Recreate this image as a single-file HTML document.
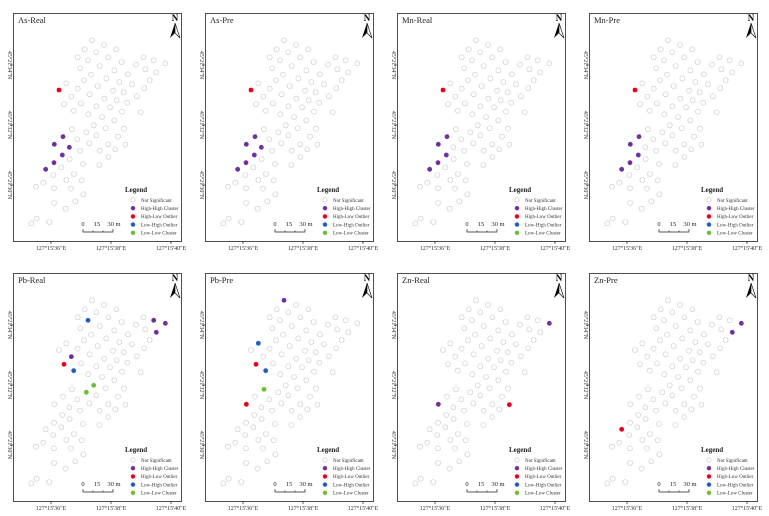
<!DOCTYPE html>
<html><head><meta charset="utf-8"><style>
html,body{margin:0;padding:0;background:#fff;}
svg{display:block;font-family:"Liberation Serif",serif;}
</style></head><body>
<svg id="chart" width="769" height="516" viewBox="0 0 769 516" xmlns="http://www.w3.org/2000/svg"></svg>
<script>
// sample locations (map units, same in every panel)
const locX = [276,312,254,289,349,233,264,325,299,365,241,273,343,408,430,461,496,436,469,384,252,319,358,199,449,233,293,339,396,177,214,269,313,350,371,433,411,192,243,289,330,382,221,265,306,343,366,422,281,216,259,317,372,189,232,289,354,163,208,268,325,240,299,346,376,187,209,325,162,249,184,298,137,160,222,199,245,130,108,162,213,250,162,226,197,110,94,148];
const locY = [121,135,148,157,148,172,181,172,198,186,205,224,211,194,172,181,190,208,217,223,241,235,246,250,240,266,258,272,253,270,290,283,296,301,277,265,289,313,310,319,322,308,332,343,351,361,335,337,376,388,397,385,386,410,418,406,410,433,442,430,433,452,452,448,434,465,477,471,488,492,502,495,508,525,522,540,541,548,560,565,566,583,609,604,626,656,670,666];
const panelNames = ["As-Real","As-Pre","Mn-Real","Mn-Pre","Pb-Real","Pb-Pre","Zn-Real","Zn-Pre"];
const hhIdx = [[53,57,58,65,68,72],[53,57,58,65,68,72],[53,57,65,68,72],[53,57,65,68,72],[15,16,18,30],[0],[16,57],[16,18]];
const hlIdx = [[29],[29],[29],[29],[37],[37,57],[64],[72]];
const lhIdx = [[],[],[],[],[6,42],[23,42],[],[]];
const llIdx = [[],[],[],[],[48,50],[49],[],[]];
const legendLabels = ["Not Significant","High-High Cluster","High-Low Outlier","Low-High Outlier","Low-Low Cluster"];
const colors = ["none","#7030a0","#e8001c","#1f5fbf","#6cbf35"];
const lonTicks = ["127°15'36\"E","127°15'38\"E","127°15'40\"E"];
const latTicks = ["45°21'34\"N","45°21'32\"N","45°21'30\"N"];

const NS="http://www.w3.org/2000/svg";
const svg=document.getElementById('chart');
function mk(tag,attrs,parent){const e=document.createElementNS(NS,tag);for(const k in attrs)e.setAttribute(k,attrs[k]);parent.appendChild(e);return e;}
const sx=v=>v/3, sy=v=>v/3;
const offX=[0,192,384,576], offY=[0,260];

panelNames.forEach((name,p)=>{
  const g=mk('g',{transform:`translate(${offX[p%4]},${offY[Math.floor(p/4)]})`},svg);
  
  
  const fr=mk('rect',{x:13.5,y:13.5,width:168,height:228,fill:'#fff',stroke:'#222','stroke-width':0.8},g);
  
  
  const t=mk('text',{x:18,y:23,'font-size':8.5,fill:'#222'},g);t.textContent=name;
  
  
  // north arrow
  const na=mk('g',{},g);
  
  
  const nt=mk('text',{x:175,y:21,'font-size':9,'text-anchor':'middle','font-weight':'bold'},na);nt.textContent='N';
  mk('polygon',{points:'175,23 170,38 175,33',fill:'#000'},na);
  mk('polygon',{points:'175,23 180,38 175,33',fill:'#fff',stroke:'#000','stroke-width':0.6},na);
  // ticks
  lonTicks.forEach((l,i)=>{
    const x=51+i*60;
    mk('line',{x1:x,y1:241,x2:x,y2:244,stroke:'#222','stroke-width':0.7},g);
    const tt=mk('text',{x:x,y:250,'font-size':6,'text-anchor':'middle',fill:'#333'},g);tt.textContent=l;
    
    
  });
  latTicks.forEach((l,i)=>{
    const y=65+i*60;
    mk('line',{x1:10,y1:y,x2:13,y2:y,stroke:'#222','stroke-width':0.7},g);
    const tt=mk('text',{x:0,y:0,'font-size':6,'text-anchor':'middle',fill:'#333',transform:`translate(8,${y}) rotate(90)`},g);tt.textContent=l;
    
    
  });
  // points
  const cls=new Array(locX.length).fill(0);
  hhIdx[p].forEach(i=>cls[i]=1);hlIdx[p].forEach(i=>cls[i]=2);lhIdx[p].forEach(i=>cls[i]=3);llIdx[p].forEach(i=>cls[i]=4);
  locX.forEach((vx,i)=>{
    const c=cls[i];
    const pt=mk('circle',{cx:sx(vx),cy:sy(locY[i]),r:c?2.4:2.5,fill:c?colors[c]:'none',stroke:c?'none':'#c8c8c8','stroke-width':0.6},g);
    
    
  });
  // legend
  const lg=mk('g',{},g);
  
  
  const lt=mk('text',{x:125,y:192,'font-size':7,'font-weight':'bold',fill:'#222'},lg);lt.textContent='Legend';
  legendLabels.forEach((l,i)=>{
    const y=200+i*8.2;
    const e=mk('g',{},lg);
    
    
    mk('circle',{cx:133,cy:y,r:2.2,fill:i?colors[i]:'none',stroke:i?'none':'#c8c8c8','stroke-width':0.6},e);
    const tx=mk('text',{x:141,y:y+1.8,'font-size':5,fill:'#333'},e);tx.textContent=l;
  });
  // scale bar
  const sb=mk('g',{},g);
  
  
  [["0",83],["15",97],["30 m",114]].forEach(([s,x])=>{const tx=mk('text',{x:x,y:226,'font-size':6.5,'text-anchor':'middle',fill:'#222'},sb);tx.textContent=s;});
  mk('path',{d:'M83,229 V232 H113 V229 M93,230.5 V232 M103,230.5 V232',fill:'none',stroke:'#222','stroke-width':0.7},sb);
});
</script>
</body></html>
